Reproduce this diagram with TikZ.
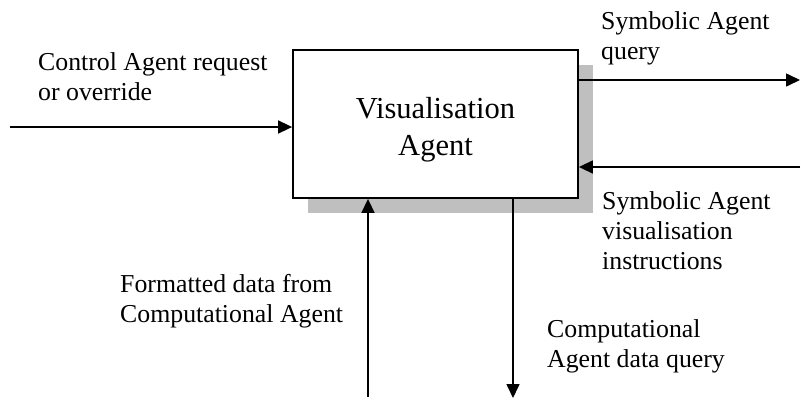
\documentclass[tikz,border=0pt]{standalone}
\usepackage{fontspec}
\setmainfont{Liberation Serif}
\usetikzlibrary{arrows.meta,shadows}

\tikzset{
  agentbox/.style={draw, rectangle, line width=1.8pt, fill=white,
    minimum width=285pt, minimum height=148pt,
    drop shadow={shadow xshift=15pt, shadow yshift=-15pt, fill=black!25, opacity=1}},
  agenttext/.style={align=center, inner sep=0pt,
    font=\fontsize{30.5}{37}\selectfont},
  lbl/.style={anchor=base west, align=left, inner sep=0pt,
    font=\fontsize{25.8}{30}\selectfont},
  flow/.style={line width=1.6pt, -{Triangle[length=14pt,width=13pt]}}
}

\begin{document}
\begin{tikzpicture}[x=1pt, y=-1pt]
    \useasboundingbox (0,0) rectangle (801,400);

    \node[agentbox] (visagent) at (435.5,124) {};
    \node[agenttext, yshift=-6pt] (visagenttxt) at (visagent.center) {Visualisation\\Agent};

    % free ends of the flows
    \coordinate (ctrlin) at (10,127);
    \coordinate (symqout) at (800,80);
    \coordinate (symvin) at (800,167);
    \coordinate (fmtin) at (368,397);
    \coordinate (cqout) at (513,398);

    \draw[flow] (ctrlin) -- (ctrlin -| visagent.west);
    \draw[flow] (symqout -| visagent.east) -- (symqout);
    \draw[flow] (symvin) -- (symvin -| visagent.east);
    \draw[flow] (fmtin) -- (fmtin |- visagent.south);
    \draw[flow] (cqout |- visagent.south) -- (cqout);

    % labels, placed at the baseline of their last line
    \node[lbl] (ctrllbl) at (38,100) {Control Agent request\\or override};
    \node[lbl] (symqlbl) at (601,59) {Symbolic Agent\\query};
    \node[lbl] (symvlbl) at (602,269) {Symbolic Agent\\visualisation\\instructions};
    \node[lbl] (fmtlbl) at (120,322) {Formatted data from\\Computational Agent};
    \node[lbl] (cqlbl) at (547,367) {Computational\\Agent data query};
\end{tikzpicture}
\end{document}
